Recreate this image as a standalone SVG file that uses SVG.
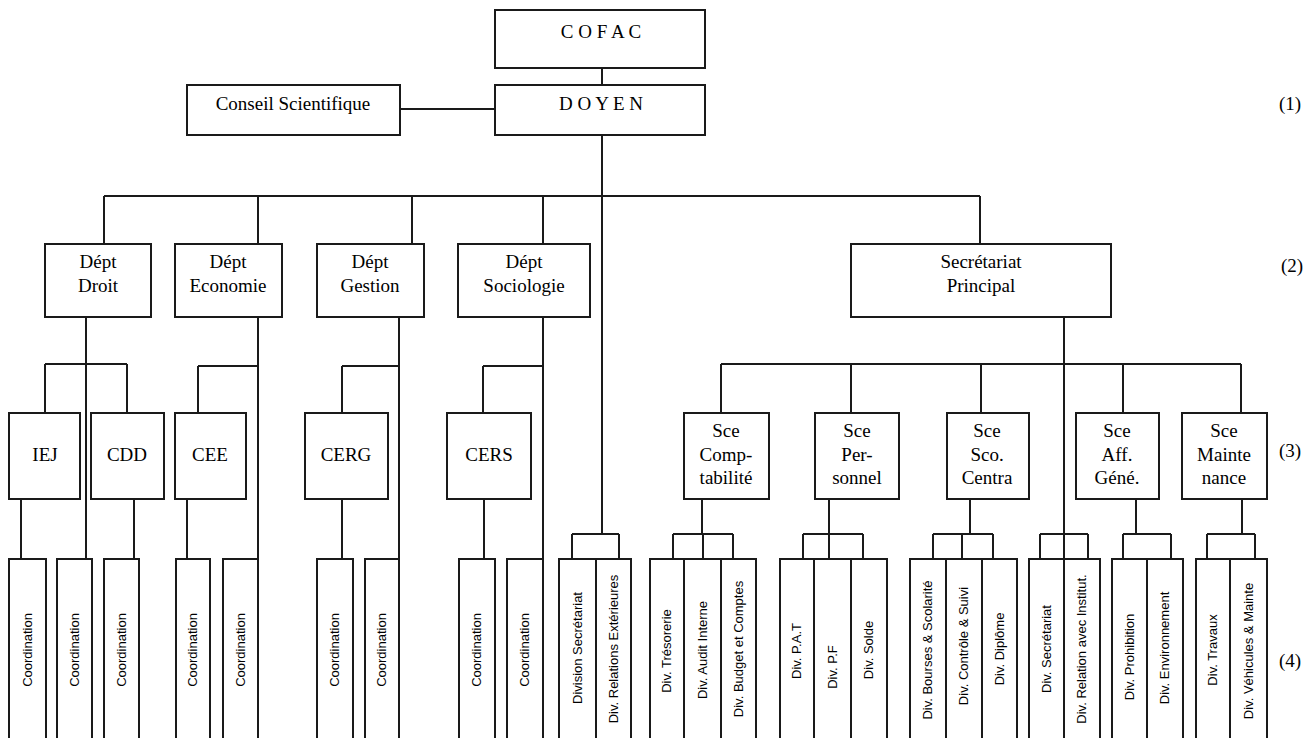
<svg xmlns="http://www.w3.org/2000/svg" width="1316" height="738" viewBox="0 0 1316 738">
<style>
.box{fill:#fff;stroke:#1a1a1a;stroke-width:2}
.ln{stroke:#1a1a1a;stroke-width:2;fill:none}
.t{font-family:"Liberation Serif","Times New Roman",serif;font-size:19px;text-anchor:middle;fill:#000}
.lv{font-family:"Liberation Serif","Times New Roman",serif;font-size:19px;fill:#000}
.v{font-family:"Liberation Sans",Arial,sans-serif;font-size:13px;text-anchor:middle;fill:#000}
</style>
<rect width="1316" height="738" fill="#fff"/>
<g id="connectors" class="ln">
<path d="M602 68V85M400 109H495M602 135V534M104 196H980M104 196V244M258 196V244M412 196V244M543 196V244M980 196V244"/>
<path d="M86 317V559M45 364H127M45 364V413M127 364V413M258 317V559M198 366H258M198 366V413M399 317V559M342 366H399M342 366V413M543 317V559M483 366H543M483 366V413"/>
<path d="M21 499V559M134 499V559M187 499V559M342 499V559M484 499V559"/>
<path d="M1064 317V559M721 364H1241M721 364V413M851 364V413M981 364V413M1123 364V413M1241 364V413"/>
<path d="M572 534H619M572 534V559M619 534V559"/>
<path d="M702 499V534M673 534H733M673 534V559M703 534V559M733 534V559"/>
<path d="M829 499V534M803 534H863M803 534V559M829 534V559M863 534V559"/>
<path d="M970 499V534M933 534H993M933 534V559M962 534V559M993 534V559"/>
<path d="M1040 534H1088M1040 534V559M1088 534V559"/>
<path d="M1136 499V534M1123 534H1171M1123 534V559M1171 534V559"/>
<path d="M1242 499V534M1207 534H1255M1207 534V559M1255 534V559"/>
</g>
<g id="cofac"><rect class="box" x="495" y="10" width="210" height="58"/><text class="t" x="601" y="38">C O F A C</text></g>
<g id="doyen"><rect class="box" x="495" y="85" width="210" height="50"/><text class="t" x="601" y="110">D O Y E N</text></g>
<g id="conseil"><rect class="box" x="187" y="85" width="213" height="50"/><text class="t" x="293" y="110">Conseil Scientifique</text></g>
<g id="dept-droit"><rect class="box" x="45" y="244" width="106" height="73"/><text class="t" x="98" y="268">Dépt</text><text class="t" x="98" y="292">Droit</text></g>
<g id="dept-economie"><rect class="box" x="175" y="244" width="107" height="73"/><text class="t" x="228" y="268">Dépt</text><text class="t" x="228" y="292">Economie</text></g>
<g id="dept-gestion"><rect class="box" x="317" y="244" width="107" height="73"/><text class="t" x="370" y="268">Dépt</text><text class="t" x="370" y="292">Gestion</text></g>
<g id="dept-sociologie"><rect class="box" x="458" y="244" width="132" height="73"/><text class="t" x="524" y="268">Dépt</text><text class="t" x="524" y="292">Sociologie</text></g>
<g id="sec-principal"><rect class="box" x="851" y="244" width="260" height="73"/><text class="t" x="981" y="268">Secrétariat</text><text class="t" x="981" y="292">Principal</text></g>
<g id="iej"><rect class="box" x="9" y="413" width="71" height="86"/><text class="t" x="45" y="461">IEJ</text></g>
<g id="cdd"><rect class="box" x="91" y="413" width="73" height="86"/><text class="t" x="127" y="461">CDD</text></g>
<g id="cee"><rect class="box" x="175" y="413" width="71" height="86"/><text class="t" x="210" y="461">CEE</text></g>
<g id="cerg"><rect class="box" x="305" y="413" width="83" height="86"/><text class="t" x="346" y="461">CERG</text></g>
<g id="cers"><rect class="box" x="447" y="413" width="84" height="86"/><text class="t" x="489" y="461">CERS</text></g>
<g id="sce-comptabilite"><rect class="box" x="684" y="413" width="85" height="86"/><text class="t" x="726" y="437">Sce</text><text class="t" x="726" y="461">Comp-</text><text class="t" x="726" y="484">tabilité</text></g>
<g id="sce-personnel"><rect class="box" x="815" y="413" width="84" height="86"/><text class="t" x="857" y="437">Sce</text><text class="t" x="857" y="461">Per-</text><text class="t" x="857" y="484">sonnel</text></g>
<g id="sce-scolarite"><rect class="box" x="947" y="413" width="82" height="86"/><text class="t" x="987" y="437">Sce</text><text class="t" x="987" y="461">Sco.</text><text class="t" x="987" y="484">Centra</text></g>
<g id="sce-aff"><rect class="box" x="1076" y="413" width="83" height="86"/><text class="t" x="1117" y="437">Sce</text><text class="t" x="1117" y="461">Aff.</text><text class="t" x="1117" y="484">Géné.</text></g>
<g id="sce-maintenance"><rect class="box" x="1182" y="413" width="85" height="86"/><text class="t" x="1224" y="437">Sce</text><text class="t" x="1224" y="461">Mainte</text><text class="t" x="1224" y="484">nance</text></g>
<g id="coord-1"><rect class="box" x="9" y="559" width="37" height="190"/><text class="v" transform="translate(32,650) rotate(-90)">Coordination</text></g>
<g id="coord-2"><rect class="box" x="57" y="559" width="35" height="190"/><text class="v" transform="translate(79,650) rotate(-90)">Coordination</text></g>
<g id="coord-3"><rect class="box" x="104" y="559" width="35" height="190"/><text class="v" transform="translate(126,650) rotate(-90)">Coordination</text></g>
<g id="coord-4"><rect class="box" x="176" y="559" width="34" height="190"/><text class="v" transform="translate(197,650) rotate(-90)">Coordination</text></g>
<g id="coord-5"><rect class="box" x="223" y="559" width="35" height="190"/><text class="v" transform="translate(245,650) rotate(-90)">Coordination</text></g>
<g id="coord-6"><rect class="box" x="317" y="559" width="36" height="190"/><text class="v" transform="translate(339,650) rotate(-90)">Coordination</text></g>
<g id="coord-7"><rect class="box" x="365" y="559" width="34" height="190"/><text class="v" transform="translate(386,650) rotate(-90)">Coordination</text></g>
<g id="coord-8"><rect class="box" x="459" y="559" width="36" height="190"/><text class="v" transform="translate(481,650) rotate(-90)">Coordination</text></g>
<g id="coord-9"><rect class="box" x="507" y="559" width="36" height="190"/><text class="v" transform="translate(529,650) rotate(-90)">Coordination</text></g>
<g id="div-doyen"><rect class="box" x="559" y="559" width="72" height="190"/><line class="ln" x1="596" y1="559" x2="596" y2="749"/><text class="v" transform="translate(582,648) rotate(-90)">Division Secrétariat</text><text class="v" transform="translate(618,649) rotate(-90)">Div. Relations Extérieures</text></g>
<g id="div-comptabilite"><rect class="box" x="650" y="559" width="106" height="190"/><path class="ln" d="M684 559V749M721 559V749"/><text class="v" transform="translate(671,651) rotate(-90)">Div. Trésorerie</text><text class="v" transform="translate(707,650) rotate(-90)">Div. Audit Interne</text><text class="v" transform="translate(743,649) rotate(-90)">Div. Budget et Comptes</text></g>
<g id="div-personnel"><rect class="box" x="780" y="559" width="107" height="190"/><path class="ln" d="M814 559V749M851 559V749"/><text class="v" transform="translate(801,651) rotate(-90)">Div. P.A.T</text><text class="v" transform="translate(837,667) rotate(-90)">Div. P.F</text><text class="v" transform="translate(873,650) rotate(-90)">Div. Solde</text></g>
<g id="div-scolarite"><rect class="box" x="910" y="559" width="107" height="190"/><path class="ln" d="M946 559V749M982 559V749"/><text class="v" transform="translate(932,650) rotate(-90)">Div. Bourses &amp; Scolarité</text><text class="v" transform="translate(968,646) rotate(-90)">Div. Contrôle &amp; Suivi</text><text class="v" transform="translate(1004,649) rotate(-90)">Div. Diplôme</text></g>
<g id="div-secretariat"><rect class="box" x="1029" y="559" width="71" height="190"/><line class="ln" x1="1064" y1="559" x2="1064" y2="749"/><text class="v" transform="translate(1051,649) rotate(-90)">Div. Secrétariat</text><text class="v" transform="translate(1086,649) rotate(-90)">Div. Relation avec Institut.</text></g>
<g id="div-aff"><rect class="box" x="1112" y="559" width="71" height="190"/><line class="ln" x1="1147" y1="559" x2="1147" y2="749"/><text class="v" transform="translate(1134,657) rotate(-90)">Div. Prohibition</text><text class="v" transform="translate(1169,648) rotate(-90)">Div. Environnement</text></g>
<g id="div-maintenance"><rect class="box" x="1196" y="559" width="71" height="190"/><line class="ln" x1="1230" y1="559" x2="1230" y2="749"/><text class="v" transform="translate(1217,650) rotate(-90)">Div. Travaux</text><text class="v" transform="translate(1253,651) rotate(-90)">Div. Véhicules &amp; Mainte</text></g>
<g id="levels"><text class="lv" x="1279" y="110">(1)</text><text class="lv" x="1281" y="272">(2)</text><text class="lv" x="1279" y="457">(3)</text><text class="lv" x="1279" y="667">(4)</text></g>
</svg>
